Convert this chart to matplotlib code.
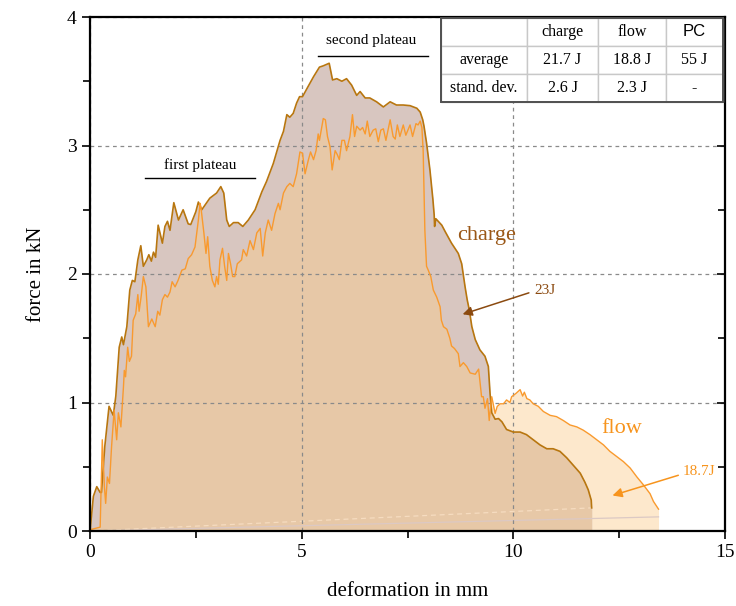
import numpy as np
import matplotlib
matplotlib.use("Agg")
import matplotlib.pyplot as plt
from matplotlib.patches import Rectangle

# ---------------- data ----------------
charge_x = [0.00, 0.08, 0.16, 0.24, 0.27, 0.35, 0.45, 0.55, 0.61, 0.69, 0.75, 0.79, 0.87, 0.94, 1.00,
            1.06, 1.13, 1.20, 1.26, 1.34, 1.39, 1.45, 1.50, 1.55, 1.61, 1.71, 1.77, 1.83, 1.89, 1.98,
            2.09, 2.20, 2.32, 2.38, 2.50, 2.56, 2.64, 2.83, 2.99, 3.09, 3.16, 3.23, 3.29, 3.39, 3.50,
            3.61, 3.74, 3.90, 4.06, 4.17, 4.33, 4.49, 4.57, 4.65, 4.72, 4.80, 4.88, 4.95, 5.02, 5.12,
            5.28, 5.42, 5.51, 5.65, 5.73, 5.83, 5.95, 6.06, 6.18, 6.30, 6.38, 6.50, 6.61, 6.77, 6.93,
            7.09, 7.24, 7.40, 7.56, 7.72, 7.80, 7.86, 7.89, 7.95, 8.03, 8.10, 8.13, 8.14, 8.17, 8.31,
            8.39, 8.54, 8.70, 8.78, 8.86, 8.91, 8.96, 9.02, 9.10, 9.21, 9.33, 9.41, 9.45, 9.49, 9.57,
            9.65, 9.73, 9.84, 10.00, 10.16, 10.31, 10.47, 10.63, 10.79, 10.94, 11.10, 11.26, 11.42,
            11.58, 11.69, 11.77, 11.84, 11.85]
charge_y = [0.00, 0.27, 0.345, 0.30, 0.30, 0.66, 0.97, 0.90, 1.05, 1.43, 1.51, 1.45, 1.59, 1.875, 1.95,
            1.94, 2.11, 2.22, 2.06, 2.11, 2.15, 2.10, 2.17, 2.13, 2.38, 2.24, 2.37, 2.41, 2.34, 2.555,
            2.42, 2.50, 2.39, 2.385, 2.485, 2.56, 2.50, 2.59, 2.63, 2.68, 2.63, 2.42, 2.37, 2.40, 2.40,
            2.37, 2.42, 2.50, 2.64, 2.72, 2.86, 3.04, 3.11, 3.24, 3.22, 3.25, 3.33, 3.38, 3.38, 3.44,
            3.535, 3.61, 3.62, 3.64, 3.51, 3.52, 3.50, 3.52, 3.47, 3.39, 3.42, 3.37, 3.37, 3.34, 3.30,
            3.34, 3.315, 3.315, 3.31, 3.29, 3.26, 3.20, 3.15, 3.02, 2.81, 2.58, 2.46, 2.37, 2.43, 2.38,
            2.33, 2.24, 2.16, 2.08, 1.90, 1.80, 1.72, 1.59, 1.49, 1.41, 1.36, 1.28, 1.07, 0.92, 0.87,
            0.875, 0.85, 0.79, 0.77, 0.77, 0.75, 0.71, 0.67, 0.64, 0.64, 0.62, 0.57, 0.51,
            0.45, 0.38, 0.32, 0.24, 0.18]

flow_x = [0.00, 0.24, 0.29, 0.34, 0.37, 0.41, 0.46, 0.51, 0.57, 0.63, 0.67, 0.73, 0.79, 0.81, 0.84,
          0.89, 0.93, 0.98, 1.02, 1.08, 1.13, 1.16, 1.21, 1.26, 1.32, 1.38, 1.46, 1.54, 1.60, 1.65,
          1.71, 1.77, 1.83, 1.89, 1.94, 2.01, 2.08, 2.17, 2.25, 2.32, 2.40, 2.48, 2.56, 2.60, 2.62,
          2.69, 2.74, 2.78, 2.83, 2.89, 2.95, 2.99, 3.03, 3.07, 3.13, 3.18, 3.23, 3.27, 3.32, 3.37,
          3.42, 3.48, 3.58, 3.62, 3.70, 3.78, 3.86, 3.94, 4.02, 4.08, 4.14, 4.21, 4.29, 4.37, 4.45,
          4.49, 4.57, 4.65, 4.72, 4.80, 4.88, 4.96, 5.02, 5.08, 5.16, 5.21, 5.28, 5.34, 5.39, 5.42,
          5.51, 5.56, 5.61, 5.67, 5.72, 5.79, 5.84, 5.89, 5.95, 6.01, 6.06, 6.14, 6.20, 6.25, 6.30,
          6.38, 6.44, 6.50, 6.55, 6.61, 6.69, 6.75, 6.81, 6.87, 6.93, 6.99, 7.09, 7.16, 7.21, 7.26,
          7.32, 7.40, 7.46, 7.56, 7.62, 7.70, 7.75, 7.80, 7.84, 7.87, 7.91, 7.95, 7.99, 8.05, 8.11,
          8.19, 8.27, 8.30, 8.35, 8.43, 8.50, 8.54, 8.61, 8.70, 8.74, 8.82, 8.90, 8.98, 9.10, 9.18,
          9.25, 9.29, 9.33, 9.39, 9.43, 9.49, 9.57, 9.62, 9.69, 9.77, 9.84, 9.92, 9.96, 10.06, 10.16,
          10.22, 10.26, 10.32, 10.39, 10.47, 10.59, 10.71, 10.87, 11.02, 11.18, 11.34, 11.50, 11.65,
          11.81, 11.97, 12.13, 12.28, 12.44, 12.60, 12.76, 12.92, 13.07, 13.23, 13.31, 13.43]
flow_y = [0.01, 0.03, 0.71, 0.345, 0.215, 0.42, 0.37, 0.66, 0.94, 0.71, 0.92, 0.81, 1.12, 1.25, 1.20,
          1.43, 1.32, 1.36, 1.64, 1.69, 1.84, 1.71, 1.83, 1.98, 1.90, 1.59, 1.65, 1.59, 1.71, 1.68,
          1.80, 1.84, 1.82, 1.86, 1.94, 1.90, 1.95, 2.03, 2.04, 2.12, 2.15, 2.21, 2.42, 2.55, 2.52,
          2.32, 2.16, 2.29, 2.06, 1.95, 1.90, 1.98, 1.92, 2.11, 2.20, 2.06, 1.95, 2.16, 2.08, 1.98,
          1.98, 2.08, 2.11, 2.19, 2.14, 2.26, 2.19, 2.32, 2.355, 2.14, 2.32, 2.42, 2.34, 2.47, 2.55,
          2.50, 2.63, 2.68, 2.705, 2.68, 2.78, 2.95, 2.94, 2.78, 2.89, 2.95, 2.89, 2.96, 3.09, 3.04,
          3.21, 3.20, 3.07, 2.99, 2.81, 2.96, 2.93, 2.89, 3.04, 3.04, 2.96, 3.07, 3.24, 3.07, 3.15,
          3.12, 3.14, 3.09, 3.19, 3.07, 3.12, 3.13, 3.03, 3.12, 3.13, 3.04, 3.20, 3.07, 3.05, 3.16,
          3.07, 3.16, 3.08, 3.16, 3.07, 3.17, 3.16, 3.19, 3.14, 2.96, 2.34, 2.06, 2.03, 1.98, 1.875,
          1.82, 1.745, 1.64, 1.59, 1.57, 1.50, 1.44, 1.42, 1.38, 1.28, 1.31, 1.28, 1.23, 1.22, 1.26,
          1.045, 1.045, 0.955, 1.03, 0.86, 1.045, 0.915, 0.97, 0.99, 0.99, 1.02, 1.00, 1.045, 1.07, 1.10,
          1.05, 1.08, 1.03, 1.02, 0.99, 0.97, 0.93, 0.90, 0.89, 0.86, 0.825, 0.81, 0.785,
          0.75, 0.71, 0.67, 0.62, 0.58, 0.54, 0.49, 0.42, 0.36, 0.29, 0.23, 0.17]

table_cols = ["", "charge", "flow", "PC"]
table_rows = [["average", "21.7 J", "18.8 J", "55 J"],
              ["stand. dev.", "2.6 J", "2.3 J", "-"]]

x_ticks = [0, 5, 10, 15]
y_ticks = [0, 1, 2, 3, 4]

# ---------------- style ----------------
SERIF = ["Liberation Serif", "DejaVu Serif"]
plt.rcParams["font.family"] = SERIF

C_LINE = "#b8760f"
F_LINE = "#f99a2e"
C_FILL = "#d8c6c0"
F_FILL = "#fde8cc"
OVER = "#e7c8a7"

fig = plt.figure(figsize=(7.36, 6.06), dpi=100)
ax = fig.add_axes([90 / 736, 75 / 606, 635 / 736, 514 / 606])

cx = np.array(charge_x); cy = np.array(charge_y)
fx = np.array(flow_x); fy = np.array(flow_y)

ax.fill_between(fx, 0, fy, color=F_FILL, lw=0, zorder=1)
ax.fill_between(cx, 0, cy, color=C_FILL, lw=0, zorder=1.1)
grid = np.union1d(cx, fx)
grid = grid[grid <= cx[-1]]
mn = np.minimum(np.interp(grid, cx, cy), np.interp(grid, fx, fy))
ax.fill_between(grid, 0, mn, color=OVER, lw=0, zorder=1.2)

# faint return paths near the baseline
ax.plot([cx[0], cx[-1]], [0, cy[-1]], color="#f6dcc0", lw=0.9, ls=(0, (4, 3)), zorder=1.5)
ax.plot([fx[0], fx[-1]], [0, fy[-1] - 0.06], color="#dcc9c4", lw=0.9, zorder=1.4)

ax.plot(cx, cy, color=C_LINE, lw=1.2, zorder=3)
ax.plot(fx, fy, color=F_LINE, lw=1.0, zorder=3.1)

ax.set_xlim(0, 15)
ax.set_ylim(0, 4)
ax.set_xticks(x_ticks)
ax.set_yticks(y_ticks)
ax.set_xticks(np.arange(0, 15.01, 2.5), minor=True)
ax.set_yticks(np.arange(0, 4.01, 0.5), minor=True)
ax.tick_params(axis="both", which="major", direction="out", length=6, width=1.2, labelsize=14)
ax.tick_params(axis="both", which="minor", direction="out", length=5, width=1.2)
ax.tick_params(axis="y", which="both", right=True, labelright=False)
for t in ax.yaxis.get_major_ticks() + ax.yaxis.get_minor_ticks():
    t.tick2line.set_marker(matplotlib.lines.TICKLEFT)
for s in ax.spines.values():
    s.set_linewidth(1.6)
    s.set_zorder(5)

ax.set_axisbelow(False)
ax.grid(True, which="major", color="#8a8a8a", ls=(0, (3, 3)), lw=0.9)
for gl in ax.get_xgridlines() + ax.get_ygridlines():
    gl.set_zorder(3.5)

ax.set_xlabel("deformation in mm", fontsize=15, labelpad=15)
ax.set_ylabel("force in kN", fontsize=15, labelpad=15)

# plateau annotations
ax.text(2.6, 2.85, "first plateau", fontsize=11, ha="center", va="center")
ax.plot([1.30, 3.90], [2.75, 2.75], color="black", lw=1.0, zorder=4)
ax.text(6.64, 3.82, "second plateau", fontsize=11, ha="center", va="center")
ax.plot([5.38, 7.98], [3.70, 3.70], color="black", lw=1.0, zorder=4)

ax.text(8.67, 2.3, "charge", fontsize=16, color="#9a5716", ha="left", va="center", zorder=6)
ax.annotate("", xy=(8.74, 1.68), xytext=(10.43, 1.86),
            arrowprops=dict(arrowstyle="-|>", color="#8b4a10", lw=1.1, mutation_scale=14), zorder=6)
ax.text(10.5, 1.87, "23J", fontsize=11, color="#8b4a10", ha="left", va="center", zorder=6)

ax.text(12.57, 0.80, "flow", fontsize=16, color="#f7941d", ha="center", va="center", zorder=6)
ax.annotate("", xy=(12.28, 0.27), xytext=(13.96, 0.44),
            arrowprops=dict(arrowstyle="-|>", color="#f7941d", lw=1.1, mutation_scale=14), zorder=6)
ax.text(14.0, 0.46, "18.7J", fontsize=11, color="#f7941d", ha="left", va="center", zorder=6)

# table
tb = ax.table(cellText=table_rows, colLabels=table_cols, cellLoc="center",
              colWidths=[0.305, 0.252, 0.241, 0.202],
              bbox=[(441 - 90) / 635, (531 - 102) / 514, (723 - 441) / 635, 84 / 514], zorder=7)
tb.auto_set_font_size(False)
for (r, c), cell in tb.get_celld().items():
    cell.set_edgecolor("#c8c8c8")
    cell.set_linewidth(1.0)
    cell.set_facecolor("white")
    txt = cell.get_text()
    txt.set_fontsize(11.5)
    txt.set_fontfamily(SERIF)
    if r == 0 and c == 3:
        txt.set_fontfamily(["Liberation Sans", "DejaVu Sans"])
        txt.set_fontsize(12)
ax.add_patch(Rectangle(((441 - 90) / 635, (531 - 102) / 514), (723 - 441) / 635, 84 / 514,
                       transform=ax.transAxes, fill=False, ec="#505050", lw=1.4, zorder=8,
                       clip_on=False))

fig.savefig("out.png", dpi=100)
